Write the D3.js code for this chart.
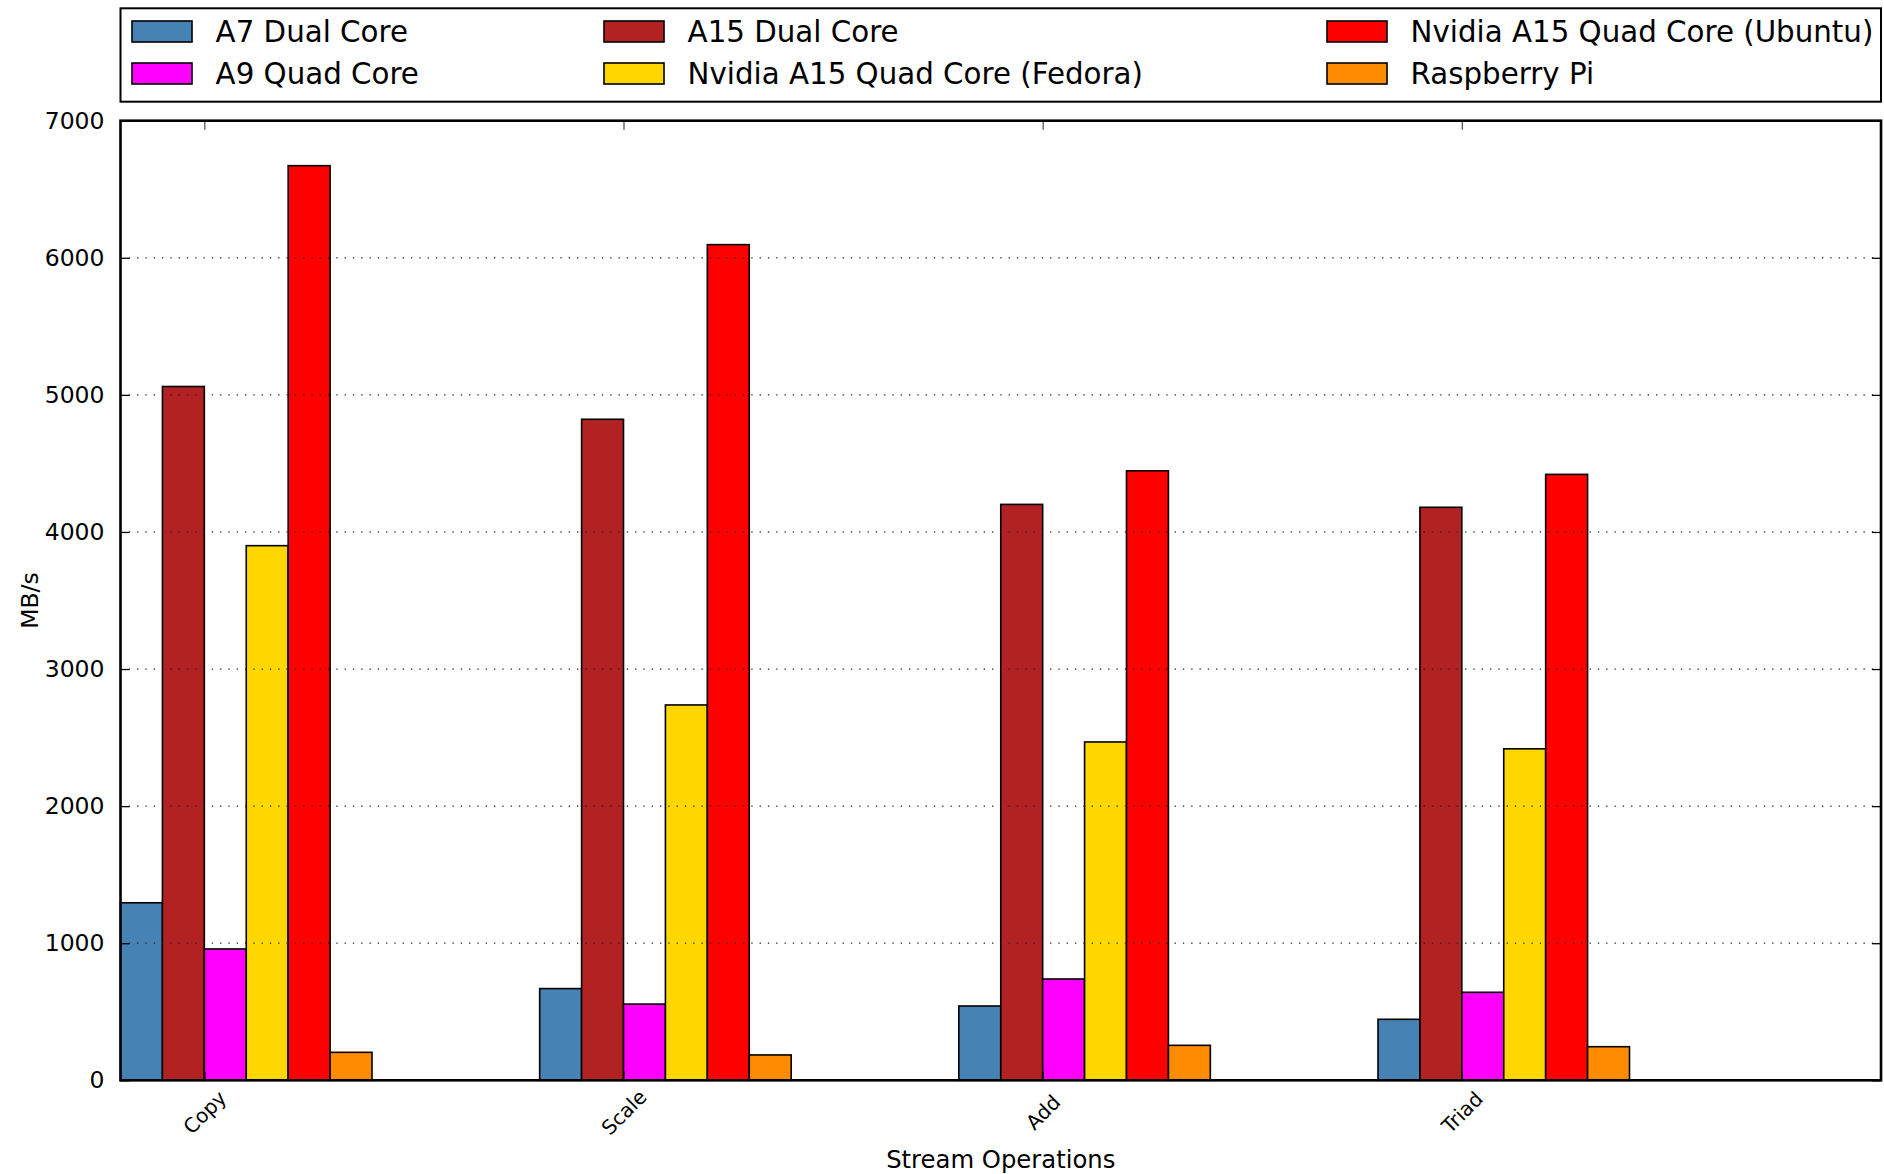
<!DOCTYPE html>
<html>
<head>
<meta charset="utf-8">
<script src="https://cdn.jsdelivr.net/npm/d3@7"></script>
<style>
  html, body { margin: 0; padding: 0; background: #fff; }
  svg { display: block; font-family: "DejaVu Sans", sans-serif; }
</style>
</head>
<body>
<svg id="chart" width="1884" height="1174"></svg>
<script>
// ---- data ----
const categories = ["Copy", "Scale", "Add", "Triad"];
const seriesNames = ["A7 Dual Core", "A15 Dual Core", "A9 Quad Core",
  "Nvidia A15 Quad Core (Fedora)", "Nvidia A15 Quad Core (Ubuntu)", "Raspberry Pi"];
const seriesColors = ["#4682b4", "#b22222", "#ff00ff", "#ffd700", "#ff0000", "#ff8c00"];
const a7Dual      = [1295, 669, 542, 445];
const a15Dual     = [5061, 4822, 4201, 4180];
const a9Quad      = [958, 556, 739, 642];
const nvFedora    = [3900, 2738, 2468, 2418];
const nvUbuntu    = [6672, 6096, 4446, 4420];
const raspberryPi = [204, 185, 255, 245];
const seriesValues = [a7Dual, a15Dual, a9Quad, nvFedora, nvUbuntu, raspberryPi];
const yTicks = [0, 1000, 2000, 3000, 4000, 5000, 6000, 7000];
// legend layout order (rows x columns)
const legendOrder = [[0, 1, 4], [2, 3, 5]];

// ---- layout ----
const svg = d3.select("#chart");
const L = 120.5, R = 1881, T = 120.7, B = 1080.3;
const barW = 0.1;
const x = d3.scaleLinear().domain([0, 4.2]).range([L, R]);
const y = d3.scaleLinear().domain([0, 7000]).range([B, T]);

// bars
const g = svg.append("g");
seriesValues.forEach((vals, s) => {
  g.selectAll(null).data(vals).enter().append("rect")
    .attr("x", (d, i) => x(i + s * barW))
    .attr("width", x(barW) - x(0))
    .attr("y", d => y(d))
    .attr("height", d => y(0) - y(d))
    .attr("fill", seriesColors[s])
    .attr("stroke", "#000")
    .attr("stroke-width", 1.6);
});

// gridlines (drawn over bars)
svg.append("g").selectAll("line").data(yTicks.filter(t => t > 0 && t < 7000)).enter()
  .append("line")
  .attr("x1", L).attr("x2", R)
  .attr("y1", d => y(d)).attr("y2", d => y(d))
  .attr("stroke", "#222").attr("stroke-width", 1.3)
  .attr("stroke-dasharray", "1.3,7");

// y axis (left, inward ticks)
const yAxisL = d3.axisLeft(y).tickValues(yTicks).tickSizeInner(-9).tickSizeOuter(0).tickPadding(16)
  .tickFormat(d3.format("d"));
const ya = svg.append("g").attr("transform", `translate(${L},0)`).call(yAxisL);
ya.select(".domain").remove();
ya.selectAll("text").attr("font-size", 23.5).attr("fill", "#000")
  .attr("font-family", "DejaVu Sans");
ya.selectAll("line").attr("stroke", "#000").attr("stroke-width", 1.3);

// y axis right (inward ticks, no labels)
const yAxisR = d3.axisRight(y).tickValues(yTicks).tickSizeInner(-9).tickSizeOuter(0).tickFormat("");
const yr = svg.append("g").attr("transform", `translate(${R},0)`).call(yAxisR);
yr.select(".domain").remove();
yr.selectAll("line").attr("stroke", "#000").attr("stroke-width", 1.3);

// x axis bottom
const tickPos = categories.map((c, i) => i + 2 * barW);
const xAxisB = d3.axisBottom(x).tickValues(tickPos).tickSizeInner(-9).tickSizeOuter(0)
  .tickFormat((d, i) => categories[i]);
const xb = svg.append("g").attr("transform", `translate(0,${B})`).call(xAxisB);
xb.select(".domain").remove();
xb.selectAll("line").attr("stroke", "#000").attr("stroke-width", 1.3);
xb.selectAll("text")
  .attr("font-size", 20).attr("fill", "#000").attr("font-family", "DejaVu Sans")
  .attr("text-anchor", "middle").attr("dy", null).attr("y", 0)
  .attr("transform", "translate(0,32) rotate(-45)")
  .attr("dominant-baseline", "central");

// x axis top (inward ticks, no labels)
const xAxisT = d3.axisTop(x).tickValues(tickPos).tickSizeInner(-9).tickSizeOuter(0).tickFormat("");
const xt = svg.append("g").attr("transform", `translate(0,${T})`).call(xAxisT);
xt.select(".domain").remove();
xt.selectAll("line").attr("stroke", "#555").attr("stroke-width", 1.3);

// frame
svg.append("rect").attr("x", L).attr("y", T).attr("width", R - L).attr("height", B - T)
  .attr("fill", "none").attr("stroke", "#000").attr("stroke-width", 2.6);

// axis labels
svg.append("text").attr("x", (L + R) / 2).attr("y", 1168)
  .attr("text-anchor", "middle").attr("font-size", 24.3).attr("fill", "#000")
  .text("Stream Operations");
svg.append("text").attr("transform", `translate(38,${(T + B) / 2}) rotate(-90)`)
  .attr("text-anchor", "middle").attr("font-size", 23.5).attr("fill", "#000")
  .text("MB/s");

// legend
const lg = svg.append("g");
lg.append("rect").attr("x", 120.5).attr("y", 8.3).attr("width", 1881 - 120.5).attr("height", 93.4)
  .attr("fill", "#fff").attr("stroke", "#000").attr("stroke-width", 2);
const colX = [132, 604, 1327];
const rowY = [21, 63];
legendOrder.forEach((row, r) => {
  row.forEach((s, c) => {
    lg.append("rect").attr("x", colX[c]).attr("y", rowY[r]).attr("width", 60).attr("height", 21)
      .attr("fill", seriesColors[s]).attr("stroke", "#000").attr("stroke-width", 1.6);
    lg.append("text").attr("x", colX[c] + 83.6).attr("y", rowY[r] + 21.3)
      .attr("font-size", 29.3).attr("fill", "#000").text(seriesNames[s]);
  });
});
</script>
</body>
</html>
